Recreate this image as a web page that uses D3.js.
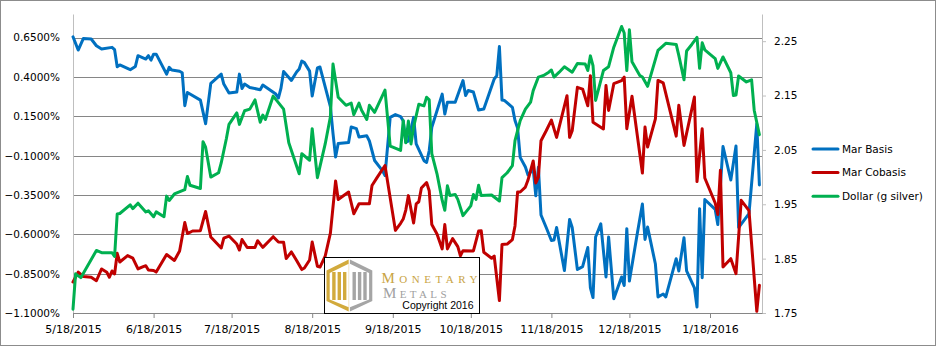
<!DOCTYPE html>
<html>
<head>
<meta charset="utf-8">
<script src="https://cdn.jsdelivr.net/npm/d3@7"></script>
<style>
  body { margin: 0; background: #fff; }
  svg { display: block; }
</style>
</head>
<body>
<svg id="chart" width="936" height="346"></svg>
<script>
// First trading session shown; every series point is [day offset from it, value].
const firstSession = "2015-05-18";

// March basis, % (left axis)
const marBasis = [[0,0.655],[2,0.571],[4,0.645],[7,0.641],[9,0.598],[11,0.577],[15,0.588],[16,0.573],[17,0.465],[18,0.476],[22,0.446],[24,0.467],[25,0.535],[28,0.514],[29,0.535],[30,0.507],[31,0.545],[32,0.545],[36,0.418],[37,0.461],[38,0.444],[41,0.436],[42,0.427],[43,0.217],[44,0.301],[49,0.253],[51,0.103],[53,0.359],[57,0.418],[58,0.355],[60,0.298],[63,0.304],[64,0.418],[65,0.326],[66,0.355],[68,0.333],[72,0.319],[73,0.349],[78,0.291],[79,0.266],[80,0.329],[81,0.434],[84,0.378],[86,0.431],[87,0.450],[88,0.501],[89,0.491],[91,0.437],[92,0.279],[94,0.457],[95,0.463],[99,0.211],[100,0.042],[101,-0.109],[102,-0.023],[106,-0.017],[107,0.082],[109,0.072],[110,0.018],[113,0.026],[114,-0.007],[116,-0.131],[119,-0.195],[120,-0.226],[122,0.143],[124,0.161],[126,0.148],[127,0.122],[128,-0.014],[129,-0.007],[131,0.143],[132,-0.026],[135,-0.132],[136,-0.143],[137,-0.069],[138,0.080],[140,0.185],[142,0.291],[143,0.164],[144,0.239],[147,0.239],[150,0.377],[151,0.282],[152,0.314],[154,0.304],[156,0.190],[158,0.196],[162,0.387],[163,0.408],[164,0.593],[165,0.253],[166,0.250],[169,0.207],[170,0.123],[171,0.075],[172,-0.111],[174,-0.172],[175,-0.223],[177,-0.185],[178,-0.355],[179,-0.174],[180,-0.477],[182,-0.557],[184,-0.639],[185,-0.636],[186,-0.557],[189,-0.830],[191,-0.506],[192,-0.557],[194,-0.824],[196,-0.805],[198,-0.684],[199,-0.941],[200,-1.002],[201,-0.617],[203,-0.533],[205,-0.871],[206,-0.617],[208,-1.009],[211,-0.871],[212,-0.925],[213,-0.564],[214,-0.897],[217,-0.598],[219,-0.408],[220,-0.633],[221,-0.554],[224,-0.789],[225,-0.998],[227,-0.979],[228,-0.998],[232,-0.755],[233,-0.833],[235,-0.622],[236,-0.833],[239,-0.940],[240,-1.062],[241,-0.437],[242,-0.876],[243,-0.379],[247,-0.442],[248,-0.538],[250,-0.042],[253,-0.255],[255,-0.039],[256,-0.557],[260,-0.468],[263,0.101],[264,-0.287]];

// March cobasis, % (left axis)
const marCobasis = [[0,-0.903],[2,-0.840],[4,-0.868],[7,-0.873],[9,-0.895],[11,-0.820],[13,-0.841],[14,-0.873],[15,-0.833],[16,-0.852],[17,-0.721],[18,-0.776],[21,-0.735],[23,-0.751],[25,-0.820],[27,-0.805],[28,-0.800],[29,-0.827],[31,-0.830],[32,-0.840],[36,-0.728],[39,-0.766],[41,-0.706],[43,-0.525],[44,-0.595],[46,-0.579],[49,-0.577],[51,-0.455],[53,-0.617],[57,-0.687],[58,-0.624],[60,-0.611],[63,-0.662],[64,-0.700],[65,-0.633],[67,-0.684],[70,-0.684],[71,-0.641],[73,-0.683],[77,-0.615],[79,-0.649],[81,-0.651],[82,-0.754],[84,-0.712],[86,-0.766],[88,-0.824],[89,-0.814],[91,-0.763],[92,-0.649],[94,-0.803],[95,-0.808],[97,-0.738],[99,-0.592],[101,-0.261],[102,-0.379],[106,-0.331],[108,-0.469],[110,-0.406],[114,-0.406],[115,-0.290],[117,-0.238],[120,-0.163],[124,-0.575],[126,-0.530],[127,-0.503],[128,-0.446],[129,-0.354],[131,-0.528],[132,-0.407],[133,-0.393],[134,-0.306],[136,-0.271],[137,-0.323],[138,-0.538],[140,-0.598],[142,-0.693],[143,-0.538],[144,-0.693],[146,-0.627],[148,-0.678],[149,-0.736],[150,-0.704],[154,-0.706],[156,-0.579],[157,-0.577],[158,-0.714],[161,-0.752],[162,-0.738],[164,-1.021],[165,-0.665],[167,-0.662],[169,-0.633],[170,-0.547],[171,-0.331],[172,-0.331],[174,-0.300],[175,-0.255],[177,-0.134],[178,-0.274],[179,-0.236],[180,-0.005],[182,0.058],[184,0.126],[186,0.016],[190,0.281],[191,0.016],[192,0.058],[194,0.334],[196,0.323],[198,0.217],[199,0.408],[200,0.112],[204,0.069],[205,0.345],[206,0.187],[208,0.357],[211,0.377],[212,0.399],[213,0.071],[215,0.277],[219,-0.211],[220,0.082],[221,-0.045],[224,0.134],[225,0.378],[227,0.362],[232,0.024],[233,0.220],[235,-0.035],[239,0.272],[240,-0.265],[242,0.071],[243,-0.242],[247,-0.401],[248,-0.474],[249,-0.193],[250,-0.808],[253,-0.755],[255,-0.850],[257,-0.384],[260,-0.449],[263,-1.089],[264,-0.924]];

// Dollar priced in grams of silver (right axis)
const dollarSilver = [[0,1.757],[1,1.822],[3,1.815],[9,1.865],[11,1.861],[15,1.861],[16,1.854],[17,1.932],[18,1.933],[22,1.949],[23,1.942],[25,1.952],[28,1.936],[29,1.938],[31,1.927],[32,1.936],[35,1.927],[36,1.965],[37,1.957],[39,1.969],[43,1.977],[44,2.001],[45,1.985],[49,1.979],[50,2.065],[51,2.055],[53,2.000],[56,2.008],[57,2.026],[59,2.071],[60,2.097],[63,2.118],[64,2.097],[66,2.122],[68,2.125],[70,2.142],[72,2.101],[73,2.114],[74,2.106],[77,2.149],[80,2.131],[81,2.125],[83,2.063],[87,2.006],[88,2.043],[91,2.031],[92,2.089],[94,1.999],[97,2.061],[99,2.111],[100,2.208],[102,2.147],[105,2.132],[107,2.136],[108,2.115],[110,2.136],[111,2.123],[113,2.106],[114,2.132],[116,2.119],[120,2.160],[122,2.057],[123,2.055],[126,2.049],[127,2.104],[128,2.063],[129,2.103],[130,2.061],[131,2.092],[133,2.134],[135,2.131],[136,2.147],[137,2.142],[138,2.043],[140,2.006],[142,1.957],[143,1.939],[144,1.984],[145,1.966],[147,1.968],[148,1.959],[150,1.929],[153,1.947],[154,1.968],[155,1.959],[156,1.985],[157,1.966],[161,1.967],[164,1.956],[165,1.999],[167,2.008],[169,2.021],[170,2.067],[172,2.104],[174,2.125],[176,2.138],[177,2.159],[179,2.184],[181,2.187],[183,2.193],[184,2.197],[185,2.184],[187,2.193],[189,2.203],[192,2.193],[194,2.209],[197,2.208],[198,2.196],[199,2.223],[200,2.205],[201,2.141],[204,2.196],[206,2.203],[208,2.239],[211,2.277],[212,2.265],[213,2.196],[214,2.271],[215,2.212],[218,2.187],[219,2.184],[221,2.167],[225,2.233],[228,2.246],[232,2.244],[233,2.224],[235,2.179],[236,2.232],[238,2.244],[240,2.257],[241,2.200],[242,2.247],[243,2.234],[247,2.218],[248,2.200],[250,2.221],[253,2.192],[254,2.150],[255,2.151],[256,2.186],[259,2.175],[261,2.179],[262,2.123],[264,2.078]];

const leftTicks = [-1.10, -0.85, -0.60, -0.35, -0.10, 0.15, 0.40, 0.65];
const rightTicks = [1.75, 1.85, 1.95, 2.05, 2.15, 2.25];
const dateTicks = ["2015-05-18","2015-06-18","2015-07-18","2015-08-18","2015-09-18","2015-10-18","2015-11-18","2015-12-18","2016-01-18"];
const seriesNames = ["Mar Basis", "Mar Cobasis", "Dollar (g silver)"];
const seriesColors = ["#0070C0", "#C00000", "#00B050"];

const parseDay = d3.timeParse("%Y-%m-%d");
const start = parseDay(firstSession);
const toDate = day => d3.timeDay.offset(start, day);

const svg = d3.select("#chart");
const font = "'DejaVu Sans', Verdana, sans-serif";
const gridColor = "#868686";

const x = d3.scaleTime().domain([start, toDate(265)]).range([73, 762]);
const yL = d3.scaleLinear().domain([-1.10, 0.80]).range([313, 14]);
const yR = d3.scaleLinear().domain([1.75, 2.30]).range([313, 14]);

// chart border
svg.append("rect").attr("x", 0.5).attr("y", 0.5).attr("width", 935).attr("height", 345)
  .attr("fill", "#fff").attr("stroke", "#8c8c8c");

// horizontal gridlines from the primary axis
svg.append("g").selectAll("line").data(leftTicks).join("line")
  .attr("x1", x.range()[0]).attr("x2", x.range()[1])
  .attr("y1", d => Math.round(yL(d)) + 0.5).attr("y2", d => Math.round(yL(d)) + 0.5)
  .attr("stroke", gridColor).attr("stroke-width", 1);

// left axis
const gL = svg.append("g").attr("transform", "translate(73,0)")
  .call(d3.axisLeft(yL).tickValues(leftTicks).tickSize(0).tickSizeOuter(0).tickPadding(13)
    .tickFormat(d => d3.format(".4f")(d) + "%"));
gL.select(".domain").attr("stroke", "#bfbfbf");
gL.selectAll("text").attr("font-family", font).attr("font-size", 10.5).attr("fill", "#000");

// right axis
const gR = svg.append("g").attr("transform", "translate(762,0)")
  .call(d3.axisRight(yR).tickValues(rightTicks).tickSize(4).tickSizeOuter(0).tickPadding(8)
    .tickFormat(d3.format(".2f")));
gR.select(".domain").attr("stroke", "#bfbfbf");
gR.selectAll(".tick line").attr("stroke", "#bfbfbf");
gR.selectAll("text").attr("font-family", font).attr("font-size", 10.5).attr("fill", "#000");

// date axis
const fmtDate = d => `${d.getMonth() + 1}/${d.getDate()}/${d.getFullYear()}`;
const gB = svg.append("g").attr("transform", "translate(0,313)")
  .call(d3.axisBottom(x).tickValues(dateTicks.map(parseDay)).tickSize(5).tickSizeOuter(0).tickPadding(7)
    .tickFormat(fmtDate));
gB.select(".domain").attr("stroke", gridColor);
gB.selectAll(".tick line").attr("stroke", gridColor);
gB.selectAll("text").attr("font-family", font).attr("font-size", 11).attr("fill", "#000");

// series lines
const series = [
  { data: marBasis, y: yL },
  { data: marCobasis, y: yL },
  { data: dollarSilver, y: yR }
];
series.forEach((s, i) => {
  const line = d3.line().x(d => x(toDate(d[0]))).y(d => s.y(d[1]));
  svg.append("path").datum(s.data).attr("d", line)
    .attr("fill", "none").attr("stroke", seriesColors[i]).attr("stroke-width", 3)
    .attr("stroke-linejoin", "round").attr("stroke-linecap", "round");
});

// legend
const legend = svg.append("g");
seriesNames.forEach((name, i) => {
  const ly = 149 + i * 23.6;
  legend.append("line").attr("x1", 813).attr("x2", 838).attr("y1", ly).attr("y2", ly)
    .attr("stroke", seriesColors[i]).attr("stroke-width", 3).attr("stroke-linecap", "round");
  legend.append("text").attr("x", 842).attr("y", ly + 3.8)
    .attr("font-family", font).attr("font-size", 10.5).attr("fill", "#000").text(name);
});

// publisher mark
const mark = svg.append("g");
mark.append("rect").attr("x", 324.5).attr("y", 257.5).attr("width", 155).attr("height", 56)
  .attr("fill", "#fff").attr("stroke", "#000").attr("stroke-width", 1);

const hexCx = 349.3, hexTop = 259.5, hexBot = 311.5, hexL = 326.5, hexR = 372.3, hexUp = 270.5, hexLo = 301;
const gold = "#D2AA3C", grey = "#A5A5A5";
mark.append("polygon").attr("points", `${hexCx-0.6},${hexTop} ${hexL},${hexUp} ${hexL},${hexLo} ${hexCx-0.6},${hexBot}`).attr("fill", gold);
mark.append("polygon").attr("points", `${hexCx+0.6},${hexTop} ${hexR},${hexUp} ${hexR},${hexLo} ${hexCx+0.6},${hexBot}`).attr("fill", grey);
const inset = 3.2;
mark.append("polygon").attr("points",
  `${hexCx-0.6},${hexTop+inset+1} ${hexL+inset},${hexUp+2.5} ${hexL+inset},${hexLo-1.5} ${hexCx-0.6},${hexBot-inset-1}`).attr("fill", "#fff");
mark.append("polygon").attr("points",
  `${hexCx+0.6},${hexTop+inset+1} ${hexR-inset},${hexUp+2.5} ${hexR-inset},${hexLo-1.5} ${hexCx+0.6},${hexBot-inset-1}`).attr("fill", "#fff");
[[332.2, gold], [337.6, gold], [343.0, gold], [352.5, grey], [357.9, grey], [363.3, grey]].forEach(([bx, c]) => {
  mark.append("rect").attr("x", bx).attr("y", 272).attr("width", 3.4).attr("height", 28).attr("fill", c);
});

const serif = "'Liberation Serif', 'DejaVu Serif', serif";
const t1 = mark.append("text").attr("x", 381.5).attr("y", 282.7).attr("font-family", serif)
  .attr("fill", "#C9A445").attr("textLength", 96).attr("lengthAdjust", "spacing");
t1.append("tspan").attr("font-size", 15).text("M");
t1.append("tspan").attr("font-size", 11).text("ONETARY");
const t2 = mark.append("text").attr("x", 383).attr("y", 298.3).attr("font-family", serif)
  .attr("fill", "#A0A0A0").attr("textLength", 63.5).attr("lengthAdjust", "spacing");
t2.append("tspan").attr("font-size", 15).text("M");
t2.append("tspan").attr("font-size", 11).text("ETALS");
mark.append("text").attr("x", 402.3).attr("y", 309.3)
  .attr("font-family", "'Liberation Sans', Arial, sans-serif").attr("font-size", 10.5)
  .attr("fill", "#000").text("Copyright 2016");
</script>
</body>
</html>
